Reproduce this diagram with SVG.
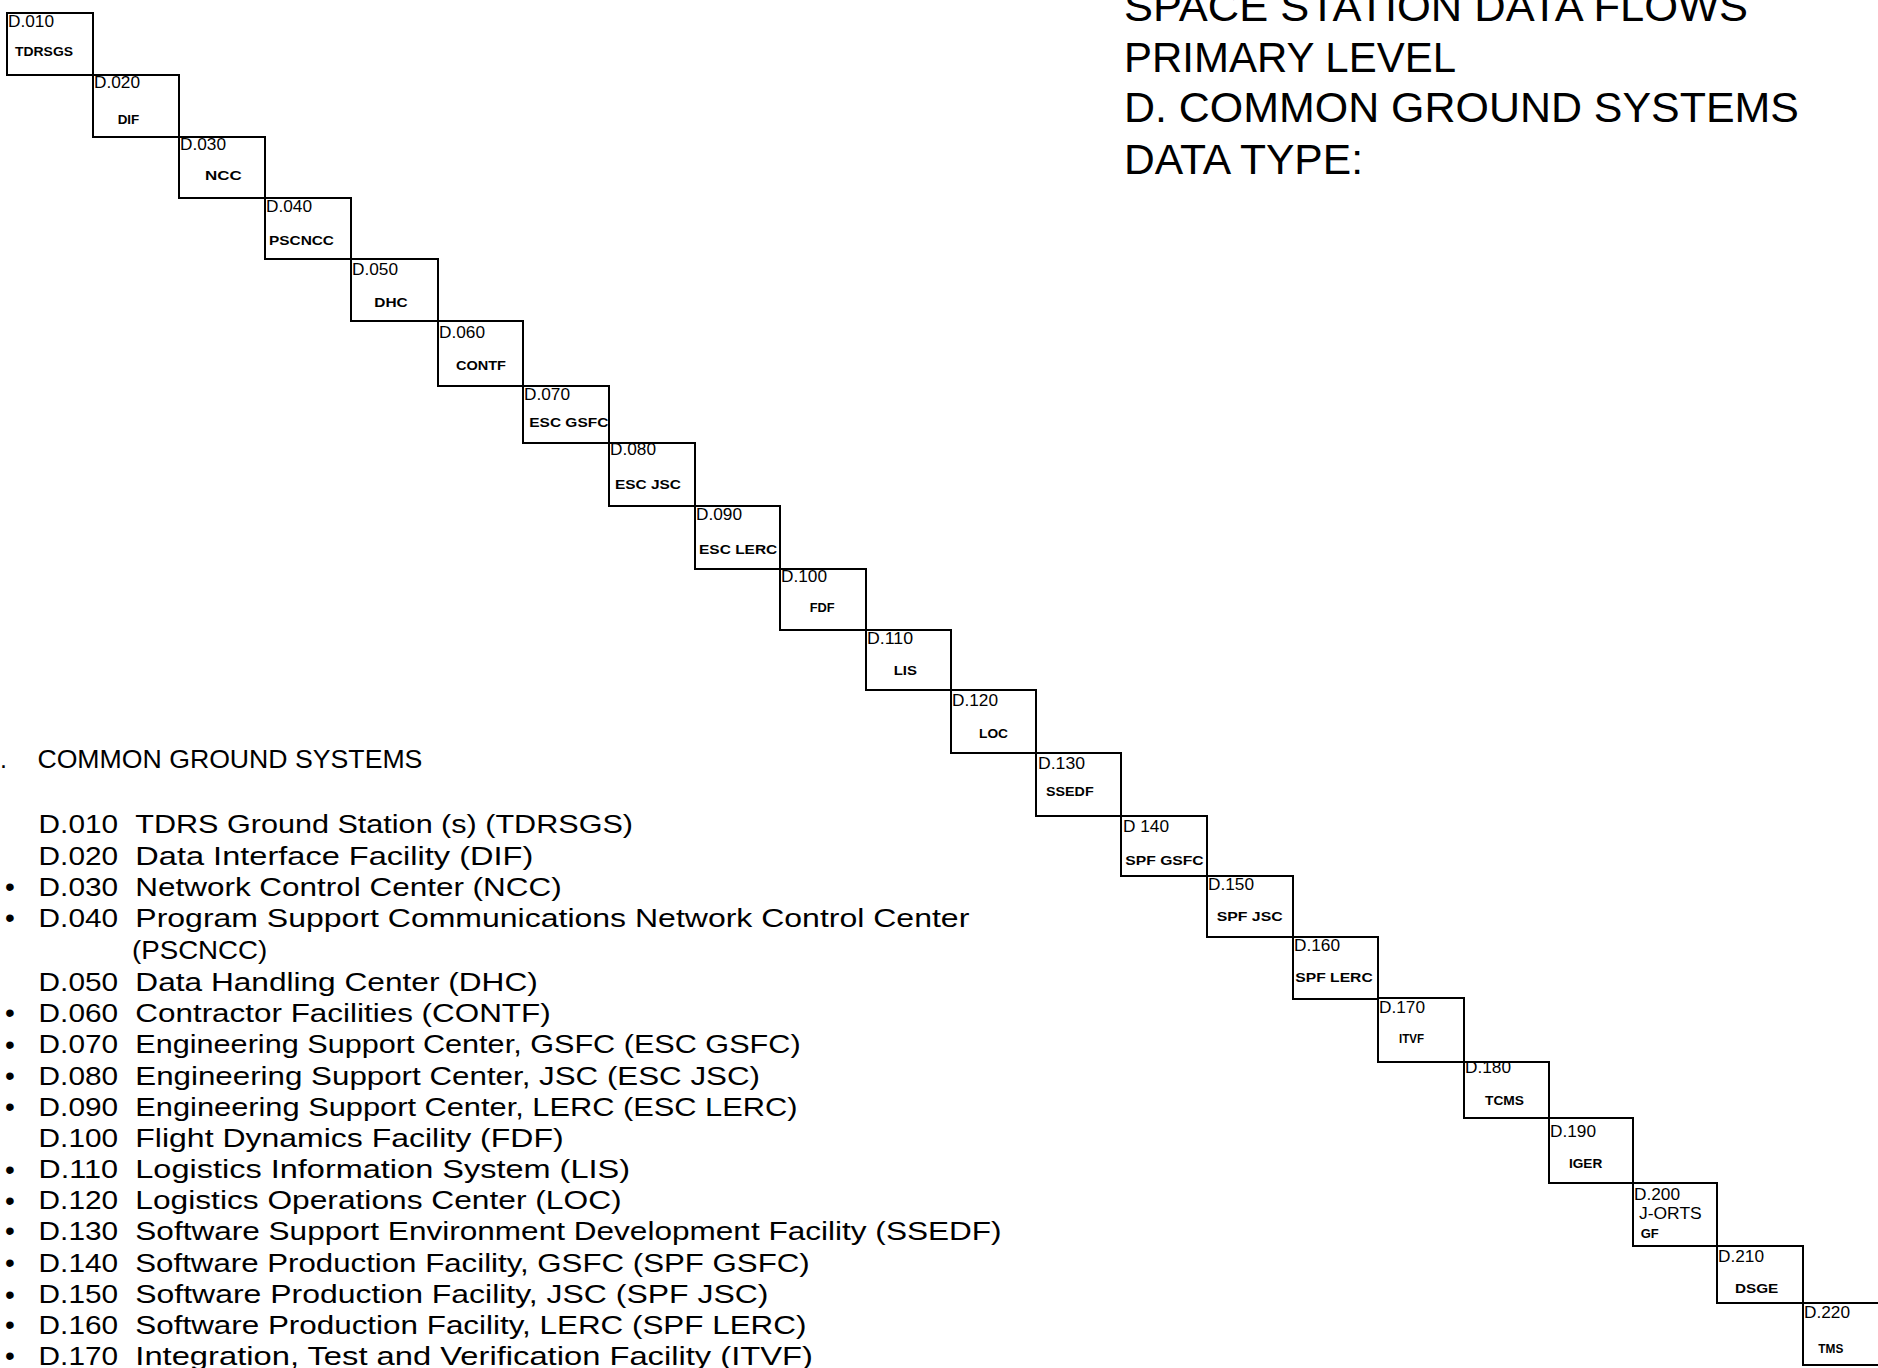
<svg xmlns="http://www.w3.org/2000/svg" width="1878" height="1368" viewBox="0 0 1878 1368">
<style>
.box{fill:none;stroke:#000;stroke-width:2}
.code{font-family:"Liberation Sans",Arial,sans-serif;font-size:16px;fill:#000}
.lbl{font-family:"Liberation Sans",Arial,sans-serif;font-size:13.5px;font-weight:bold;fill:#000}
.ttl{font-family:"Liberation Sans",Arial,sans-serif;font-size:43px;fill:#000}
.lst{font-family:"Liberation Sans",Arial,sans-serif;font-size:25px;fill:#000}
.bul{font-family:"Liberation Sans",Arial,sans-serif;font-size:28px;fill:#000}
</style>
<rect x="0" y="0" width="1878" height="1368" fill="#fff"/>

<g id="title">
<text class="ttl" x="1124" y="21" textLength="624" lengthAdjust="spacingAndGlyphs">SPACE STATION DATA FLOWS</text>
<text class="ttl" x="1124" y="71.5" textLength="332" lengthAdjust="spacingAndGlyphs">PRIMARY LEVEL</text>
<text class="ttl" x="1124" y="121.5" textLength="675" lengthAdjust="spacingAndGlyphs">D. COMMON GROUND SYSTEMS</text>
<text class="ttl" x="1124" y="174" textLength="239" lengthAdjust="spacingAndGlyphs">DATA TYPE:</text>
</g>

<g id="connectors"></g>

<g id="node-D010"><rect class="box" x="7" y="13" width="86" height="62"/><text class="code" x="8" y="26.7" textLength="46" lengthAdjust="spacingAndGlyphs">D.010</text><text class="lbl" x="15" y="56" textLength="58" lengthAdjust="spacingAndGlyphs">TDRSGS</text></g>
<g id="node-D020"><rect class="box" x="93" y="75" width="86" height="62"/><text class="code" x="94" y="87.5" textLength="46" lengthAdjust="spacingAndGlyphs">D.020</text><text class="lbl" x="117.7" y="124" textLength="21.6" lengthAdjust="spacingAndGlyphs">DIF</text></g>
<g id="node-D030"><rect class="box" x="179" y="137" width="86" height="61"/><text class="code" x="180" y="150" textLength="46" lengthAdjust="spacingAndGlyphs">D.030</text><text class="lbl" x="205" y="180" textLength="36.7" lengthAdjust="spacingAndGlyphs">NCC</text></g>
<g id="node-D040"><rect class="box" x="265" y="198" width="86" height="61"/><text class="code" x="266" y="211.7" textLength="46" lengthAdjust="spacingAndGlyphs">D.040</text><text class="lbl" x="269" y="245" textLength="65" lengthAdjust="spacingAndGlyphs">PSCNCC</text></g>
<g id="node-D050"><rect class="box" x="351" y="259" width="87" height="62"/><text class="code" x="352" y="275" textLength="46" lengthAdjust="spacingAndGlyphs">D.050</text><text class="lbl" x="374.3" y="306.7" textLength="33.4" lengthAdjust="spacingAndGlyphs">DHC</text></g>
<g id="node-D060"><rect class="box" x="438" y="321" width="85" height="65"/><text class="code" x="439" y="337.7" textLength="46" lengthAdjust="spacingAndGlyphs">D.060</text><text class="lbl" x="456" y="370" textLength="50" lengthAdjust="spacingAndGlyphs">CONTF</text></g>
<g id="node-D070"><rect class="box" x="523" y="386" width="86" height="57"/><text class="code" x="524" y="400" textLength="46" lengthAdjust="spacingAndGlyphs">D.070</text><text class="lbl" x="529.3" y="426.7" textLength="79" lengthAdjust="spacingAndGlyphs">ESC GSFC</text></g>
<g id="node-D080"><rect class="box" x="609" y="443" width="86" height="63"/><text class="code" x="610" y="455" textLength="46" lengthAdjust="spacingAndGlyphs">D.080</text><text class="lbl" x="615" y="489.3" textLength="66" lengthAdjust="spacingAndGlyphs">ESC JSC</text></g>
<g id="node-D090"><rect class="box" x="695" y="506" width="85" height="63"/><text class="code" x="696" y="520.3" textLength="46" lengthAdjust="spacingAndGlyphs">D.090</text><text class="lbl" x="699" y="553.7" textLength="78.3" lengthAdjust="spacingAndGlyphs">ESC LERC</text></g>
<g id="node-D100"><rect class="box" x="780" y="569" width="86" height="61"/><text class="code" x="781" y="582" textLength="46" lengthAdjust="spacingAndGlyphs">D.100</text><text class="lbl" x="809.7" y="612" textLength="25" lengthAdjust="spacingAndGlyphs">FDF</text></g>
<g id="node-D110"><rect class="box" x="866" y="630" width="85" height="60"/><text class="code" x="867" y="643.7" textLength="46" lengthAdjust="spacingAndGlyphs">D.110</text><text class="lbl" x="893.7" y="675.3" textLength="23.3" lengthAdjust="spacingAndGlyphs">LIS</text></g>
<g id="node-D120"><rect class="box" x="951" y="690" width="85" height="63"/><text class="code" x="952" y="706.3" textLength="46" lengthAdjust="spacingAndGlyphs">D.120</text><text class="lbl" x="979" y="737.7" textLength="29" lengthAdjust="spacingAndGlyphs">LOC</text></g>
<g id="node-D130"><rect class="box" x="1036" y="753" width="85" height="63"/><text class="code" x="1038" y="769" textLength="47" lengthAdjust="spacingAndGlyphs">D.130</text><text class="lbl" x="1046" y="795.7" textLength="47.7" lengthAdjust="spacingAndGlyphs">SSEDF</text></g>
<g id="node-D140"><rect class="box" x="1121" y="816" width="86" height="60"/><text class="code" x="1123" y="832.3" textLength="46" lengthAdjust="spacingAndGlyphs">D 140</text><text class="lbl" x="1125.3" y="864.7" textLength="78.4" lengthAdjust="spacingAndGlyphs">SPF GSFC</text></g>
<g id="node-D150"><rect class="box" x="1207" y="876" width="86" height="61"/><text class="code" x="1208" y="889.7" textLength="46" lengthAdjust="spacingAndGlyphs">D.150</text><text class="lbl" x="1216.7" y="920.7" textLength="66" lengthAdjust="spacingAndGlyphs">SPF JSC</text></g>
<g id="node-D160"><rect class="box" x="1293" y="937" width="85" height="62"/><text class="code" x="1294" y="950.7" textLength="46" lengthAdjust="spacingAndGlyphs">D.160</text><text class="lbl" x="1295.3" y="982.3" textLength="77.4" lengthAdjust="spacingAndGlyphs">SPF LERC</text></g>
<g id="node-D170"><rect class="box" x="1378" y="998" width="86" height="64"/><text class="code" x="1379" y="1012.7" textLength="46" lengthAdjust="spacingAndGlyphs">D.170</text><text class="lbl" x="1399" y="1042.7" textLength="25" lengthAdjust="spacingAndGlyphs">ITVF</text></g>
<g id="node-D180"><rect class="box" x="1464" y="1062" width="85" height="56"/><text class="code" x="1465" y="1073.3" textLength="46" lengthAdjust="spacingAndGlyphs">D.180</text><text class="lbl" x="1485" y="1105" textLength="39" lengthAdjust="spacingAndGlyphs">TCMS</text></g>
<g id="node-D190"><rect class="box" x="1549" y="1118" width="84" height="65"/><text class="code" x="1550" y="1136.7" textLength="46" lengthAdjust="spacingAndGlyphs">D.190</text><text class="lbl" x="1569" y="1167.7" textLength="33.3" lengthAdjust="spacingAndGlyphs">IGER</text></g>
<g id="node-D200"><rect class="box" x="1633" y="1183" width="84" height="63"/><text class="code" x="1634" y="1200" textLength="46" lengthAdjust="spacingAndGlyphs">D.200</text><text class="code" x="1639" y="1219.3" textLength="62.7" lengthAdjust="spacingAndGlyphs">J-ORTS</text><text class="lbl" x="1640.7" y="1238.3" textLength="18" lengthAdjust="spacingAndGlyphs">GF</text></g>
<g id="node-D210"><rect class="box" x="1717" y="1246" width="86" height="57"/><text class="code" x="1718" y="1262.3" textLength="46" lengthAdjust="spacingAndGlyphs">D.210</text><text class="lbl" x="1735" y="1293.3" textLength="43.3" lengthAdjust="spacingAndGlyphs">DSGE</text></g>
<g id="node-D220"><rect class="box" x="1803" y="1303" width="87" height="62"/><text class="code" x="1804" y="1318.3" textLength="46" lengthAdjust="spacingAndGlyphs">D.220</text><text class="lbl" x="1818.3" y="1353.3" textLength="25" lengthAdjust="spacingAndGlyphs">TMS</text></g>

<g id="legend">
<text class="lst" x="0" y="768.3">.</text>
<text class="lst" x="37.4" y="768.3" textLength="385" lengthAdjust="spacingAndGlyphs">COMMON GROUND SYSTEMS</text>

<text class="lst" x="38.6" y="832.7" textLength="79.5" lengthAdjust="spacingAndGlyphs">D.010</text>
<text class="lst" x="135.3" y="832.7" textLength="497.7" lengthAdjust="spacingAndGlyphs">TDRS Ground Station (s) (TDRSGS)</text>

<text class="lst" x="38.6" y="864.5" textLength="79.5" lengthAdjust="spacingAndGlyphs">D.020</text>
<text class="lst" x="135.3" y="864.5" textLength="398" lengthAdjust="spacingAndGlyphs">Data Interface Facility (DIF)</text>

<text class="bul" x="5" y="896">•</text>
<text class="lst" x="38.6" y="895.7" textLength="79.5" lengthAdjust="spacingAndGlyphs">D.030</text>
<text class="lst" x="135.3" y="895.7" textLength="426.4" lengthAdjust="spacingAndGlyphs">Network Control Center (NCC)</text>

<text class="bul" x="5" y="927">•</text>
<text class="lst" x="38.6" y="926.7" textLength="79.5" lengthAdjust="spacingAndGlyphs">D.040</text>
<text class="lst" x="135.3" y="926.7" textLength="834" lengthAdjust="spacingAndGlyphs">Program Support Communications Network Control Center</text>
<text class="lst" x="132" y="959" textLength="135.3" lengthAdjust="spacingAndGlyphs">(PSCNCC)</text>

<text class="lst" x="38.6" y="990.7" textLength="79.5" lengthAdjust="spacingAndGlyphs">D.050</text>
<text class="lst" x="135.3" y="990.7" textLength="402.5" lengthAdjust="spacingAndGlyphs">Data Handling Center (DHC)</text>

<text class="bul" x="5" y="1022">•</text>
<text class="lst" x="38.6" y="1021.7" textLength="79.5" lengthAdjust="spacingAndGlyphs">D.060</text>
<text class="lst" x="135.3" y="1021.7" textLength="415.4" lengthAdjust="spacingAndGlyphs">Contractor Facilities (CONTF)</text>

<text class="bul" x="5" y="1053.5">•</text>
<text class="lst" x="38.6" y="1053.3" textLength="79.5" lengthAdjust="spacingAndGlyphs">D.070</text>
<text class="lst" x="135.3" y="1053.3" textLength="665.3" lengthAdjust="spacingAndGlyphs">Engineering Support Center, GSFC (ESC GSFC)</text>

<text class="bul" x="5" y="1085.3">•</text>
<text class="lst" x="38.6" y="1085" textLength="79.5" lengthAdjust="spacingAndGlyphs">D.080</text>
<text class="lst" x="135.3" y="1085" textLength="624.7" lengthAdjust="spacingAndGlyphs">Engineering Support Center, JSC (ESC JSC)</text>

<text class="bul" x="5" y="1116.3">•</text>
<text class="lst" x="38.6" y="1116" textLength="79.5" lengthAdjust="spacingAndGlyphs">D.090</text>
<text class="lst" x="135.3" y="1116" textLength="662.1" lengthAdjust="spacingAndGlyphs">Engineering Support Center, LERC (ESC LERC)</text>

<text class="lst" x="38.6" y="1147.3" textLength="79.5" lengthAdjust="spacingAndGlyphs">D.100</text>
<text class="lst" x="135.3" y="1147.3" textLength="428.3" lengthAdjust="spacingAndGlyphs">Flight Dynamics Facility (FDF)</text>

<text class="bul" x="5" y="1178.5">•</text>
<text class="lst" x="38.6" y="1178.3" textLength="79.5" lengthAdjust="spacingAndGlyphs">D.110</text>
<text class="lst" x="135.3" y="1178.3" textLength="494.7" lengthAdjust="spacingAndGlyphs">Logistics Information System (LIS)</text>

<text class="bul" x="5" y="1209.5">•</text>
<text class="lst" x="38.6" y="1209.3" textLength="79.5" lengthAdjust="spacingAndGlyphs">D.120</text>
<text class="lst" x="135.3" y="1209.3" textLength="486.3" lengthAdjust="spacingAndGlyphs">Logistics Operations Center (LOC)</text>

<text class="bul" x="5" y="1240.3">•</text>
<text class="lst" x="38.6" y="1240" textLength="79.5" lengthAdjust="spacingAndGlyphs">D.130</text>
<text class="lst" x="135.3" y="1240" textLength="866.3" lengthAdjust="spacingAndGlyphs">Software Support Environment Development Facility (SSEDF)</text>

<text class="bul" x="5" y="1272">•</text>
<text class="lst" x="38.6" y="1271.7" textLength="79.5" lengthAdjust="spacingAndGlyphs">D.140</text>
<text class="lst" x="135.3" y="1271.7" textLength="674.4" lengthAdjust="spacingAndGlyphs">Software Production Facility, GSFC (SPF GSFC)</text>

<text class="bul" x="5" y="1303.5">•</text>
<text class="lst" x="38.6" y="1303.3" textLength="79.5" lengthAdjust="spacingAndGlyphs">D.150</text>
<text class="lst" x="135.3" y="1303.3" textLength="633.1" lengthAdjust="spacingAndGlyphs">Software Production Facility, JSC (SPF JSC)</text>

<text class="bul" x="5" y="1334.3">•</text>
<text class="lst" x="38.6" y="1334" textLength="79.5" lengthAdjust="spacingAndGlyphs">D.160</text>
<text class="lst" x="135.3" y="1334" textLength="671.1" lengthAdjust="spacingAndGlyphs">Software Production Facility, LERC (SPF LERC)</text>

<text class="bul" x="5" y="1365.3">•</text>
<text class="lst" x="38.6" y="1365" textLength="79.5" lengthAdjust="spacingAndGlyphs">D.170</text>
<text class="lst" x="135.3" y="1365" textLength="677.7" lengthAdjust="spacingAndGlyphs">Integration, Test and Verification Facility (ITVF)</text>
</g>
</svg>
